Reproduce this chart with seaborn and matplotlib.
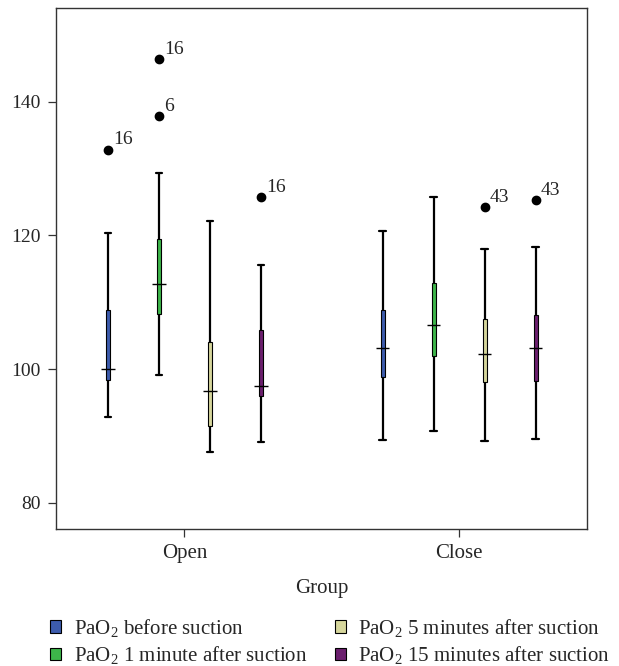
import numpy as np
import pandas as pd
import seaborn as sns
import matplotlib.pyplot as plt

# values (order: Open x 4 series, then Close x 4 series)
groups = ["Open", "Close"]
series = ["PaO$_2$ before suction", "PaO$_2$ 1 minute after suction",
          "PaO$_2$ 5 minutes after suction", "PaO$_2$ 15 minutes after suction"]
colors = ["#3d5cad", "#3db54a", "#d6d69c", "#6b1f6e"]

whisker_low = [92.8, 99.1, 87.6, 89.1, 89.4, 90.7, 89.3, 89.6]
q1 = [98.4, 108.2, 91.5, 96.0, 98.9, 102.0, 98.1, 98.2]
median = [100.0, 112.7, 96.8, 97.5, 103.2, 106.6, 102.3, 103.2]
q3 = [108.9, 119.5, 104.1, 105.8, 108.8, 112.9, 107.5, 108.1]
whisker_high = [120.3, 129.3, 122.1, 115.5, 120.7, 125.7, 118.0, 118.3]

outlier_group = ["Open", "Open", "Open", "Open", "Close", "Close"]
outlier_series = [0, 1, 1, 3, 2, 3]
outlier_value = [132.8, 146.3, 137.8, 125.7, 124.2, 125.3]
outlier_case = ["16", "16", "6", "16", "43", "43"]

# rebuild a small sample per box whose quartiles / whiskers equal the read values
rows = []
for gi, g in enumerate(groups):
    for si, s in enumerate(series):
        i = gi * len(series) + si
        outs = [v for og, os_, v in zip(outlier_group, outlier_series, outlier_value)
                if og == g and os_ == si]
        k = 1 + len(outs)
        vals = ([whisker_low[i]] + [q1[i]] * k + [median[i]] * k + [q3[i]] * k
                + [whisker_high[i]] + outs)
        rows += [(g, s, v) for v in vals]
df = pd.DataFrame(rows, columns=["Group", "Time", "PaO2"])

sns.set_style("ticks")
plt.rcParams["font.family"] = ["Liberation Serif", "DejaVu Serif"]
plt.rcParams["mathtext.fontset"] = "custom"
plt.rcParams["mathtext.rm"] = "Liberation Serif"
plt.rcParams["mathtext.it"] = "Liberation Serif:italic"

fig, ax = plt.subplots(figsize=(6.19, 6.66), dpi=100)
plt.subplots_adjust(left=56 / 619, right=587 / 619, top=1 - 8 / 666, bottom=1 - 529 / 666)

sns.boxplot(data=df, x="Group", y="PaO2", hue="Time", order=groups, hue_order=series,
            palette=colors, saturation=1, width=0.743, gap=0.92, linecolor="black",
            linewidth=1.6, fliersize=6, ax=ax,
            boxprops=dict(linewidth=0.8),
            medianprops=dict(linewidth=1.0),
            flierprops=dict(marker="o", markerfacecolor="black", markeredgecolor="black"))

# wider caps and median ticks like the SPSS style
for ln in ax.lines:
    x = np.asarray(ln.get_xdata(), dtype=float)
    y = np.asarray(ln.get_ydata(), dtype=float)
    if len(x) == 2 and y[0] == y[1] and x[0] != x[1]:
        c = x.mean()
        if ln.get_linewidth() < 1.3:
            new = 0.024
            ln.set_zorder(5)
        else:
            new = 0.0125
        ln.set_xdata([c - new, c + new])

# case labels next to the outliers
for ln in ax.lines:
    if ln.get_marker() == "o":
        for xv, yv in zip(ln.get_xdata(), ln.get_ydata()):
            for v, case in zip(outlier_value, outlier_case):
                if np.isclose(yv, v):
                    ax.annotate(case, (xv, yv), xytext=(4, 1), textcoords="offset points",
                                ha="left", va="bottom", fontsize=14)

ax.set_xlim(-0.468, 1.466)
ax.set_ylim(76.1, 154.0)
ax.set_yticks([80, 100, 120, 140])
ax.set_ylabel("")
ax.set_xlabel("Group", fontsize=15, labelpad=11)
ax.tick_params(axis="both", labelsize=14, length=6, width=0.9, color="#333333", pad=5)
ax.tick_params(axis="x", labelsize=15)
for sp in ax.spines.values():
    sp.set_visible(True)
    sp.set_color("#333333")
    sp.set_linewidth(1.0)

sns.move_legend(ax, "upper left", bbox_to_anchor=(50 / 619, 1 - 617 / 666),
                bbox_transform=fig.transFigure, ncol=2, title=None, frameon=False,
                fontsize=15, handlelength=0.55, handleheight=0.55, handletextpad=0.6,
                columnspacing=1.3, labelspacing=0.25, borderpad=0, borderaxespad=0)

fig.savefig("out.png", dpi=100)
